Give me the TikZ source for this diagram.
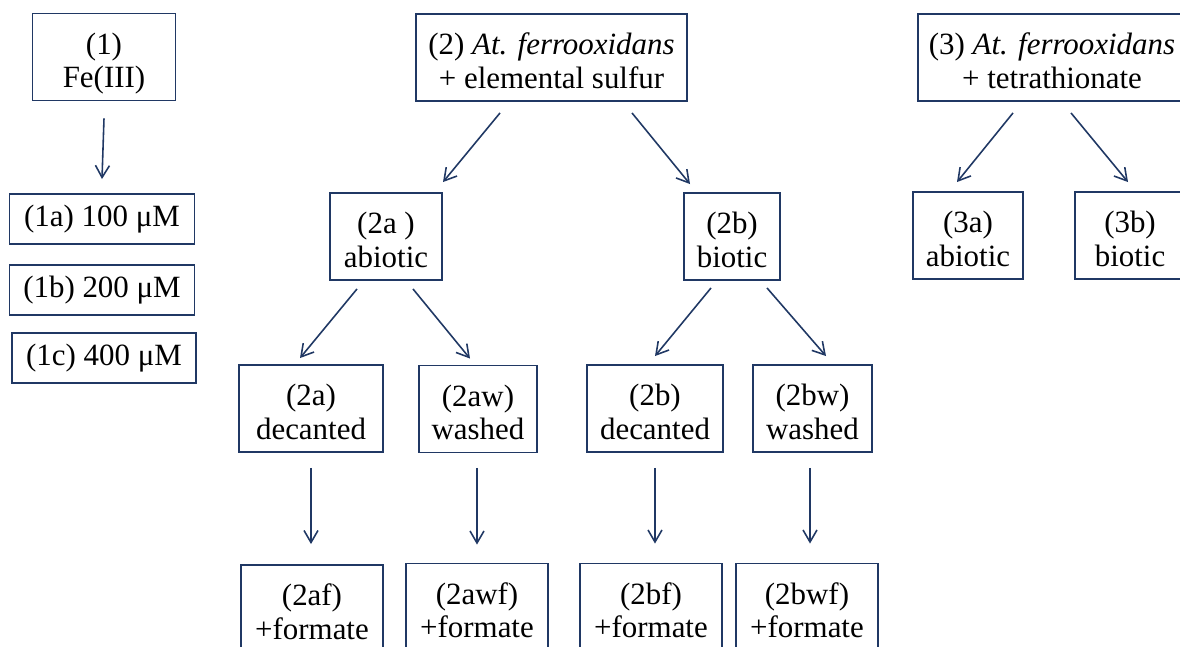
\documentclass[tikz,border=0pt]{standalone}
\usepackage{fontspec}
\setmainfont{Liberation Serif}
\usepackage{xcolor}
\usepackage{tikz}
\usetikzlibrary{arrows.meta,positioning,calc}
\definecolor{navy}{RGB}{32,56,100}
\tikzset{
	box/.style={draw=navy, line width=1.1pt, align=center, inner sep=0pt,
		font=\fontsize{17.6}{19}\selectfont},
	arrow/.style={-{Straight Barb[length=2.4mm,width=2.8mm]}, navy, line width=0.9pt}
}
% two lines with fixed top and bottom, so the baselines sit the same in every box
\newcommand{\twoline}[3][21pt]{\rule{0pt}{#1}#2\\#3\rule[-5pt]{0pt}{5pt}}
\begin{document}
\begin{tikzpicture}[x=0.02cm, y=-0.02cm,
					tallbox/.style={box, minimum height=1.74cm},
					]
					\path[use as bounding box, clip] (0,0) rectangle (1180,646);
					
					%% -- Fe(III) column
					\node[tallbox, minimum width=2.86cm] (one) at (104,57) {\twoline{(1)}{Fe(III)}};
					\node[box, minimum width=3.7cm, minimum height=1cm] (onea) at (102,219) {(1a) 100 μM};
					\node[box, minimum width=3.7cm, minimum height=1cm] (oneb) at (102,290) {(1b) 200 μM};
					\node[box, minimum width=3.68cm, minimum height=1cm] (onec) at (104,358) {(1c) 400 μM};
					
					\draw[arrow] ($(one.south)+(0,17)$) -- ($(onea.north)+(0,-14)$);
					
					%% -- elemental sulfur tree
					\node[tallbox, minimum width=5.42cm] (two) at (551.5,57.5)
					{\twoline{(2) \textit{At. ferrooxidans}}{+ elemental sulfur}};
					\node[tallbox, minimum width=2.24cm] (twoa) at (386,236.5) {\twoline{(2a )}{abiotic}};
					\node[tallbox, minimum width=1.92cm] (twob) at (732,236.5) {\twoline{(2b)}{biotic}};
					
					\draw[arrow] ($(two.south)+(-51.5,11)$) -- ($(twoa.north)+(57,-10)$);
					\draw[arrow] ($(two.south)+(80.5,11)$) -- ($(twob.north)+(-42,-8)$);
					
					\node[tallbox, minimum width=2.88cm] (twoad) at (311,408.5) {\twoline{(2a)}{decanted}};
					\node[tallbox, minimum width=2.36cm] (twoaw) at (478,409) {\twoline{(2aw)}{washed}};
					\node[tallbox, minimum width=2.72cm] (twobd) at (655,408.5) {\twoline{(2b)}{decanted}};
					\node[tallbox, minimum width=2.38cm] (twobw) at (812.5,408.5) {\twoline{(2bw)}{washed}};
					
					\draw[arrow] ($(twoa.south)+(-29,8)$) -- ($(twoad.north)+(-11,-6)$);
					\draw[arrow] ($(twoa.south)+(27,8)$) -- ($(twoaw.north)+(-8,-6)$);
					\draw[arrow] ($(twob.south)+(-21,7)$) -- ($(twobd.north)+(0,-8)$);
					\draw[arrow] ($(twob.south)+(35,7)$) -- ($(twobw.north)+(13.5,-8)$);
					
					%% -- formate row
					\node[tallbox, minimum width=2.84cm] (twoaf) at (312,608.5) {\twoline{(2af)}{+formate}};
					\node[tallbox, minimum width=2.84cm] (twoawf) at (477,607) {\twoline{(2awf)}{+formate}};
					\node[tallbox, minimum width=2.84cm] (twobf) at (651,607) {\twoline{(2bf)}{+formate}};
					\node[tallbox, minimum width=2.84cm] (twobwf) at (807,607) {\twoline{(2bwf)}{+formate}};
					
					\draw[arrow] ($(twoad.south)+(0,15)$) -- ($(twoaf.north)+(-1,-20)$);
					\draw[arrow] ($(twoaw.south)+(-1,14.5)$) -- ($(twoawf.north)+(0,-18)$);
					\draw[arrow] ($(twobd.south)+(0,15)$) -- ($(twobf.north)+(4,-19)$);
					\draw[arrow] ($(twobw.south)+(-2.5,15)$) -- ($(twobwf.north)+(3,-19)$);
					
					%% -- tetrathionate tree
					\node[tallbox, minimum width=5.36cm] (three) at (1052,57.5)
					{\twoline{(3) \textit{At. ferrooxidans}}{+ tetrathionate}};
					\node[tallbox, minimum width=2.2cm] (threea) at (968,235.5) {\twoline{(3a)}{abiotic}};
					\node[tallbox, minimum width=2.2cm] (threeb) at (1130,235.5) {\twoline{(3b)}{biotic}};
					
					\draw[arrow] ($(three.south)+(-39,11)$) -- ($(threea.north)+(-11,-9)$);
					\draw[arrow] ($(three.south)+(19,11)$) -- ($(threeb.north)+(-2,-9)$);
					
				\end{tikzpicture}
\end{document}
